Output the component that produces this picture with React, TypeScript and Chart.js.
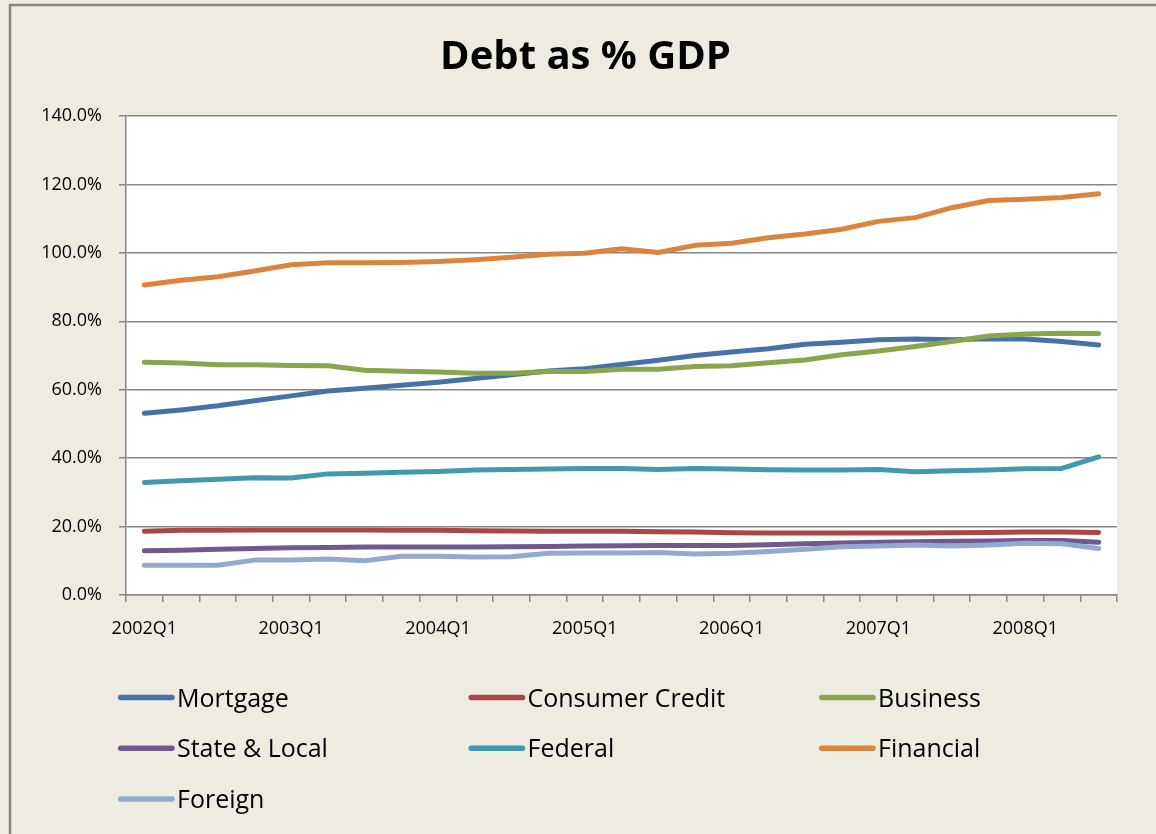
import React, { useEffect, useRef } from 'react';
import { Chart, registerables } from 'chart.js';

Chart.register(...registerables);

const quarters = [
  '2002Q1', '2002Q2', '2002Q3', '2002Q4',
  '2003Q1', '2003Q2', '2003Q3', '2003Q4',
  '2004Q1', '2004Q2', '2004Q3', '2004Q4',
  '2005Q1', '2005Q2', '2005Q3', '2005Q4',
  '2006Q1', '2006Q2', '2006Q3', '2006Q4',
  '2007Q1', '2007Q2', '2007Q3', '2007Q4',
  '2008Q1', '2008Q2', '2008Q3',
];

const mortgage = [53.1, 54.1, 55.3, 56.8, 58.2, 59.6, 60.4, 61.3, 62.2, 63.3, 64.4, 65.5, 66.1, 67.4, 68.6, 70.0, 71.0, 72.0, 73.3, 73.9, 74.6, 74.8, 74.6, 74.9, 74.8, 74.1, 73.1];
const consumerCredit = [18.6, 18.9, 18.9, 19.0, 19.0, 19.0, 19.0, 18.9, 18.9, 18.8, 18.7, 18.6, 18.6, 18.6, 18.5, 18.4, 18.2, 18.1, 18.1, 18.1, 18.1, 18.1, 18.2, 18.3, 18.4, 18.4, 18.3];
const business = [68.0, 67.8, 67.3, 67.3, 67.1, 67.0, 65.7, 65.4, 65.2, 64.8, 64.8, 65.3, 65.3, 66.0, 66.0, 66.8, 67.0, 67.9, 68.7, 70.2, 71.3, 72.6, 74.1, 75.7, 76.3, 76.5, 76.4];
const stateLocal = [12.9, 13.1, 13.4, 13.6, 13.8, 13.9, 14.0, 14.0, 14.0, 14.0, 14.1, 14.2, 14.3, 14.4, 14.5, 14.5, 14.5, 14.7, 15.0, 15.2, 15.4, 15.6, 15.7, 15.8, 15.9, 15.9, 15.4];
const federal = [32.9, 33.4, 33.8, 34.3, 34.2, 35.4, 35.6, 35.9, 36.1, 36.5, 36.7, 36.8, 37.0, 37.0, 36.7, 37.0, 36.8, 36.6, 36.5, 36.5, 36.7, 36.0, 36.3, 36.5, 36.9, 37.0, 40.4];
const financial = [90.6, 92.0, 93.0, 94.7, 96.5, 97.1, 97.1, 97.2, 97.5, 98.0, 98.7, 99.6, 99.9, 101.2, 100.1, 102.2, 102.8, 104.4, 105.5, 106.9, 109.2, 110.3, 113.2, 115.3, 115.7, 116.2, 117.3];
const foreign = [8.7, 8.7, 8.7, 10.2, 10.2, 10.5, 10.0, 11.3, 11.3, 11.1, 11.2, 12.2, 12.3, 12.3, 12.4, 12.0, 12.2, 12.7, 13.4, 14.1, 14.3, 14.6, 14.3, 14.6, 15.1, 15.0, 13.6];

const seriesNames = ['Mortgage', 'Consumer Credit', 'Business', 'State & Local', 'Federal', 'Financial', 'Foreign'];
const seriesData = [mortgage, consumerCredit, business, stateLocal, federal, financial, foreign];
const seriesColors = ['#4572A7', '#AA4643', '#89A54E', '#71588F', '#4198AF', '#DB843D', '#93A9CF'];

const titleText = 'Debt as % GDP';
const yTicks = { min: 0, max: 140, step: 20 };

const FONT = "'Open Sans', sans-serif";
const GRID = '#878787';

export default function App() {
  const ref = useRef<HTMLCanvasElement>(null);

  useEffect(() => {
    document.body.style.margin = '0';
    const canvas = ref.current;
    if (!canvas) return;

    const bgPlugin = {
      id: 'bgPlugin',
      beforeDraw(chart: any) {
        const { ctx, chartArea: a } = chart;
        ctx.save();
        ctx.fillStyle = '#EEECE1';
        ctx.fillRect(0, 0, chart.width, chart.height);
        ctx.strokeStyle = '#868686';
        ctx.lineWidth = 2.5;
        ctx.strokeRect(10, 5, chart.width + 40, chart.height + 40);
        ctx.fillStyle = '#FFFFFF';
        ctx.fillRect(a.left, a.top, a.right - a.left, a.bottom - a.top);
        ctx.fillStyle = '#000000';
        ctx.font = `bold 40px ${FONT}`;
        ctx.textAlign = 'center';
        ctx.textBaseline = 'alphabetic';
        ctx.fillText(titleText, 585.5, 69);
        ctx.restore();
      },
    };

    const legendPlugin = {
      id: 'gridLegend',
      afterDraw(chart: any) {
        const { ctx } = chart;
        ctx.save();
        ctx.font = `25px ${FONT}`;
        ctx.textAlign = 'left';
        ctx.textBaseline = 'alphabetic';
        chart.data.datasets.forEach((ds: any, i: number) => {
          const col = i % 3;
          const row = Math.floor(i / 3);
          const x = 118 + col * 350.5;
          const base = 706.5 + row * 50.8;
          const ly = base - 9;
          ctx.strokeStyle = ds.borderColor;
          ctx.lineWidth = 5.5;
          ctx.lineCap = 'round';
          ctx.beginPath();
          ctx.moveTo(x + 2.7, ly);
          ctx.lineTo(x + 54, ly);
          ctx.stroke();
          ctx.fillStyle = '#000000';
          ctx.fillText(ds.label, x + 59, base);
        });
        ctx.restore();
      },
    };

    const chart = new Chart(canvas, {
      type: 'line',
      data: {
        labels: quarters,
        datasets: seriesNames.map((name, i) => ({
          label: name,
          data: seriesData[i],
          borderColor: seriesColors[i],
          backgroundColor: seriesColors[i],
          borderWidth: 5,
          pointRadius: 0,
          pointHoverRadius: 0,
          tension: 0,
          fill: false,
          borderCapStyle: 'round',
          borderJoinStyle: 'round',
          order: seriesNames.length - i,
        })),
      },
      options: {
        responsive: false,
        animation: false,
        events: [],
        layout: { padding: { left: 0, top: 116, right: 39, bottom: 179 } },
        plugins: {
          legend: { display: false },
          title: { display: false },
          tooltip: { enabled: false },
        },
        scales: {
          x: {
            type: 'category',
            offset: true,
            afterFit: (scale: any) => { scale.height = 60; },
            grid: {
              display: true,
              drawOnChartArea: false,
              drawTicks: true,
              tickLength: 7,
              offset: true,
              color: GRID,
              lineWidth: 1.5,
            },
            border: { display: true, color: GRID, width: 1.5 },
            ticks: {
              autoSkip: false,
              maxRotation: 0,
              minRotation: 0,
              padding: 16,
              color: '#000000',
              font: { family: FONT, size: 18 },
              callback: (_v: any, idx: number) => (idx % 4 === 0 ? quarters[idx] : ''),
            },
          },
          y: {
            min: yTicks.min,
            max: yTicks.max,
            afterFit: (scale: any) => { scale.width = 126; },
            grid: {
              display: true,
              drawOnChartArea: true,
              drawTicks: true,
              tickLength: 7,
              color: GRID,
              lineWidth: 1.5,
            },
            border: { display: true, color: GRID, width: 1.5 },
            ticks: {
              stepSize: yTicks.step,
              padding: 17,
              color: '#000000',
              font: { family: FONT, size: 18 },
              callback: (v: any) => `${Number(v).toFixed(1)}%`,
            },
          },
        },
      },
      plugins: [bgPlugin, legendPlugin],
    } as any);

    return () => chart.destroy();
  }, []);

  return <canvas ref={ref} width={1156} height={834} style={{ display: 'block' }} />;
}
